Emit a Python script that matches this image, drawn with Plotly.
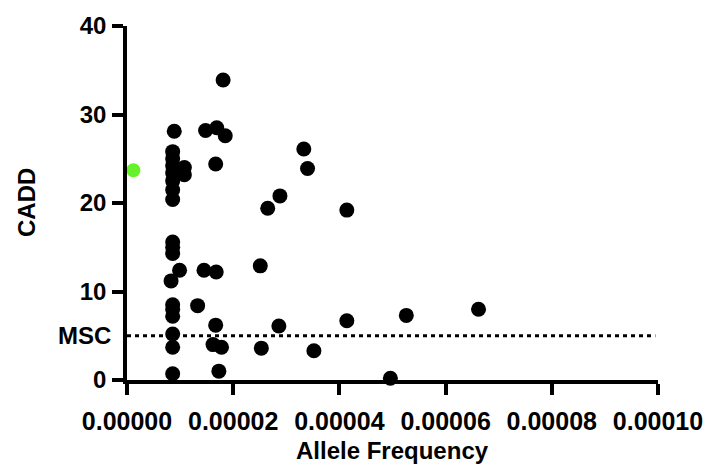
import plotly.graph_objects as go

# Allele frequency (x) and CADD score (y) for the black points
freq = [
    8.9e-6, 8.6e-6, 8.6e-6, 8.6e-6, 8.6e-6, 8.6e-6, 8.6e-6, 8.6e-6,
    10.8e-6, 10.8e-6,
    8.6e-6, 8.6e-6, 8.6e-6, 9.9e-6, 8.3e-6,
    8.6e-6, 8.6e-6, 8.6e-6, 8.6e-6, 8.6e-6, 8.6e-6,
    14.8e-6, 16.9e-6, 18.5e-6, 18.1e-6, 16.7e-6,
    14.5e-6, 16.8e-6, 13.3e-6, 16.7e-6, 16.2e-6, 17.8e-6, 17.3e-6,
    33.3e-6, 34.0e-6, 28.8e-6, 26.5e-6, 41.4e-6, 25.1e-6,
    28.6e-6, 41.4e-6, 25.3e-6, 35.2e-6, 52.6e-6, 66.2e-6, 49.6e-6,
]
cadd = [
    28.1, 25.8, 25.0, 24.2, 23.4, 22.5, 21.5, 20.4,
    24.0, 23.2,
    15.6, 15.0, 14.3, 12.4, 11.2,
    8.5, 8.0, 7.2, 5.2, 3.7, 0.7,
    28.2, 28.5, 27.6, 33.9, 24.4,
    12.4, 12.2, 8.4, 6.2, 4.0, 3.7, 1.0,
    26.1, 23.9, 20.8, 19.4, 19.2, 12.9,
    6.1, 6.7, 3.6, 3.3, 7.3, 8.0, 0.2,
]

# Highlighted (green) variant
green_freq = [1.2e-6]
green_cadd = [23.7]

# MSC threshold line
msc_value = 5.0
msc_x = [0.0, 0.0000995]

x_ticks = [0, 0.00002, 0.00004, 0.00006, 0.00008, 0.0001]
x_tick_labels = ["0.00000", "0.00002", "0.00004", "0.00006", "0.00008", "0.00010"]
y_ticks = [0, 10, 20, 30, 40]

FONT = "Liberation Sans, Arial, sans-serif"

fig = go.Figure()

fig.add_trace(go.Scatter(
    x=msc_x, y=[msc_value, msc_value], mode="lines",
    line=dict(color="black", width=3, dash="4px,4px"),
    hoverinfo="skip", showlegend=False,
))

fig.add_trace(go.Scatter(
    x=freq, y=cadd, mode="markers",
    marker=dict(color="black", size=15, line=dict(width=0)),
    cliponaxis=False, showlegend=False,
))

fig.add_trace(go.Scatter(
    x=green_freq, y=green_cadd, mode="markers",
    marker=dict(color="#66F22A", size=14, line=dict(width=0)),
    cliponaxis=False, showlegend=False,
))

fig.update_layout(
    width=715, height=466,
    margin=dict(l=127, r=52, t=20, b=86),
    paper_bgcolor="white", plot_bgcolor="white",
    font=dict(family=FONT, color="black"),
    showlegend=False,
    xaxis=dict(
        range=[0, 0.0001],
        tickmode="array", tickvals=x_ticks, ticktext=x_tick_labels,
        ticks="outside", ticklen=11, tickwidth=3.5, tickcolor="black",
        showline=True, linewidth=3.5, linecolor="black",
        showgrid=False, zeroline=False,
        tickfont=dict(family=FONT, size=25, color="black", weight="bold"),
        ticklabelstandoff=5,
    ),
    yaxis=dict(
        range=[0, 40],
        tickmode="array", tickvals=y_ticks,
        ticks="outside", ticklen=11, tickwidth=3.5, tickcolor="black",
        showline=True, linewidth=3.5, linecolor="black",
        showgrid=False, zeroline=False,
        tickfont=dict(family=FONT, size=24, color="black", weight="bold"),
        ticklabelstandoff=1,
    ),
    annotations=[
        dict(text="<b>Allele Frequency</b>", xref="paper", yref="paper",
             x=0.5, y=-0.198, xanchor="center", yanchor="middle",
             showarrow=False, borderpad=0,
             font=dict(family=FONT, size=24, color="black")),
        dict(text="<b>CADD</b>", xref="paper", yref="paper",
             x=0, xshift=-101, y=0.5, textangle=-90,
             xanchor="center", yanchor="middle",
             showarrow=False, font=dict(family=FONT, size=24, color="black")),
        dict(text="<b>MSC</b>", xref="paper", yref="y",
             x=0, xshift=-14, y=msc_value, xanchor="right", yanchor="middle",
             showarrow=False, font=dict(family=FONT, size=24, color="black")),
    ],
)

fig.write_html("out.html")
